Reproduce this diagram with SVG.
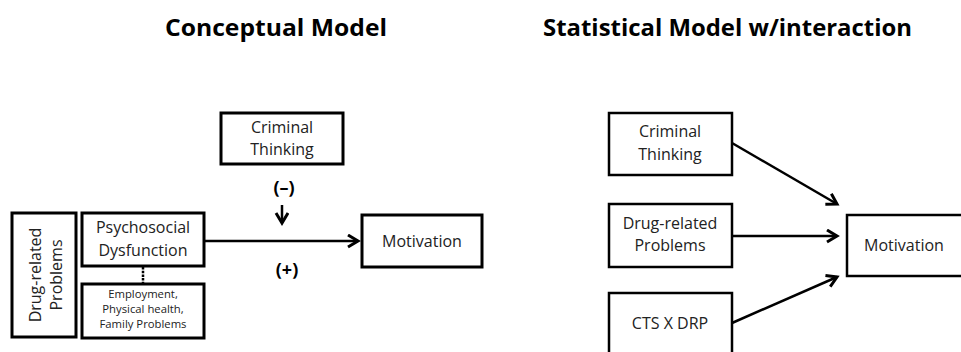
<svg xmlns="http://www.w3.org/2000/svg" width="961" height="352" viewBox="0 0 961 352">
<style>
.box{fill:#fff;stroke:#000;stroke-width:3}
.box2{fill:#fff;stroke:#000;stroke-width:2.5}
.t{font-family:"Open Sans","Liberation Sans",sans-serif;font-size:16px;fill:#222;text-anchor:middle}
.s{font-family:"Open Sans","Liberation Sans",sans-serif;font-size:11.3px;fill:#222;text-anchor:middle}
.title{font-family:"Open Sans","Liberation Sans",sans-serif;font-size:23px;font-weight:bold;fill:#000}
.sign{font-family:"Open Sans","Liberation Sans",sans-serif;font-size:18px;font-weight:bold;fill:#000;text-anchor:middle}
.edge{stroke:#000;stroke-width:2.5;fill:none}
</style>
<defs>
<marker id="ah" markerUnits="userSpaceOnUse" markerWidth="14" markerHeight="16" refX="11" refY="7" orient="auto">
<path d="M1,1 L11,7 L1,13" fill="none" stroke="#000" stroke-width="3" stroke-linejoin="miter"/>
</marker>
</defs>
<rect width="961" height="352" fill="#fff"/>
<text class="title" x="165" y="36" textLength="222" lengthAdjust="spacingAndGlyphs">Conceptual Model</text>
<text class="title" x="543" y="36" textLength="369" lengthAdjust="spacingAndGlyphs">Statistical Model w/interaction</text>

<g id="connectors">
<line class="edge" x1="143" y1="267" x2="143" y2="283" stroke-dasharray="2.5,1.2" stroke-width="2.5"/>
<line class="edge" x1="205" y1="241" x2="358" y2="241" marker-end="url(#ah)"/>
<line class="edge" x1="282" y1="205" x2="282" y2="223" marker-end="url(#ah)"/>
<line class="edge" x1="732" y1="143" x2="837" y2="204" marker-end="url(#ah)"/>
<line class="edge" x1="732" y1="236" x2="837" y2="236" marker-end="url(#ah)"/>
<line class="edge" x1="732" y1="323" x2="837" y2="277" marker-end="url(#ah)"/>
</g>

<g id="drug-left">
<rect class="box" x="12" y="213" width="64" height="124"/>
<text class="t" transform="translate(41,275) rotate(-90)" x="0" y="0">Drug-related</text>
<text class="t" transform="translate(62,275) rotate(-90)" x="0" y="0">Problems</text>
</g>
<g id="psychosocial">
<rect class="box" x="82" y="213" width="122" height="53"/>
<text class="t" x="143" y="233">Psychosocial</text>
<text class="t" x="143" y="256">Dysfunction</text>
</g>
<g id="employment">
<rect class="box" x="82" y="284" width="122" height="54"/>
<text class="s" x="143" y="298">Employment,</text>
<text class="s" x="143" y="313">Physical health,</text>
<text class="s" x="143" y="328">Family Problems</text>
</g>
<g id="criminal-left">
<rect class="box" x="221" y="113" width="122" height="51"/>
<text class="t" x="282" y="133">Criminal</text>
<text class="t" x="282" y="155">Thinking</text>
</g>
<g id="motivation-left">
<rect class="box" x="362" y="215" width="120" height="52"/>
<text class="t" x="422" y="247">Motivation</text>
</g>
<g id="signs">
<text class="sign" x="284" y="194">(–)</text>
<text class="sign" x="287" y="276">(+)</text>
</g>

<g id="criminal-right">
<rect class="box2" x="609" y="113" width="123" height="62"/>
<text class="t" x="670" y="137">Criminal</text>
<text class="t" x="670" y="160">Thinking</text>
</g>
<g id="drug-right">
<rect class="box2" x="609" y="204" width="123" height="63"/>
<text class="t" x="670" y="229">Drug-related</text>
<text class="t" x="670" y="251">Problems</text>
</g>
<g id="cts">
<rect class="box2" x="609" y="293" width="123" height="70"/>
<text class="t" x="670" y="329">CTS X DRP</text>
</g>
<g id="motivation-right">
<rect class="box2" x="847" y="215" width="120" height="61"/>
<text class="t" x="904" y="251">Motivation</text>
</g>
</svg>
